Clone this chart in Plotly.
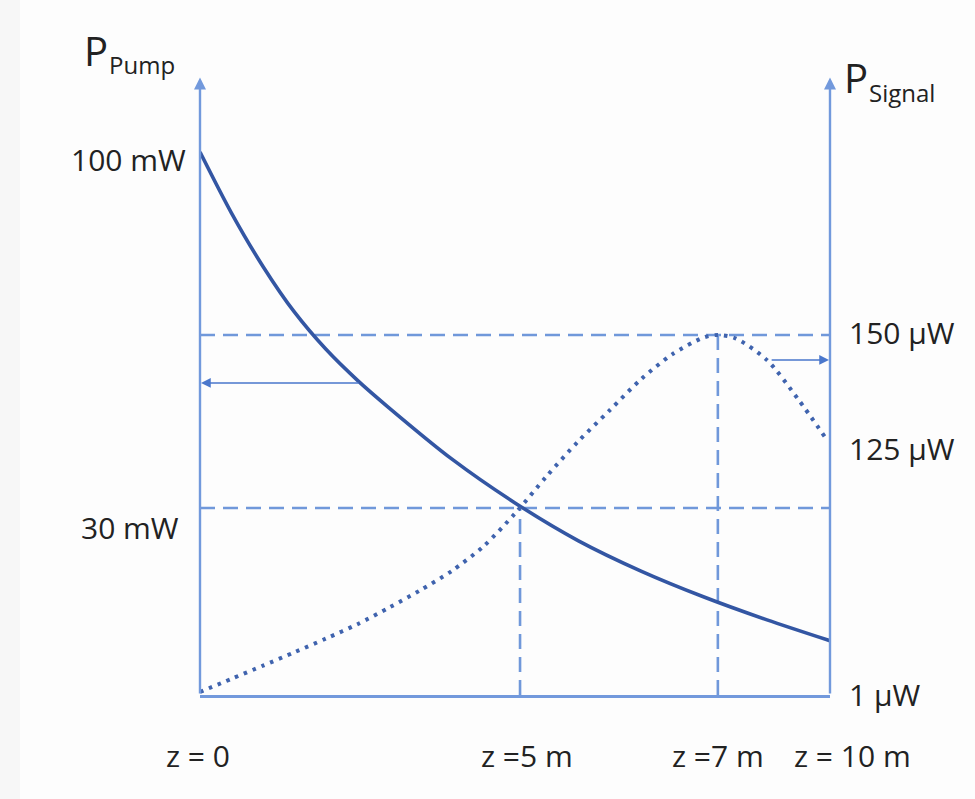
import plotly.graph_objects as go

# ---- data (axes are schematic) ----
z_pump = [0, 0.5, 1, 1.5, 2, 2.5, 3, 4, 5, 6, 7, 8, 9, 10]
p_pump_mw = [100, 88, 77.5, 68.5, 61.2, 55.1, 49.7, 39.6, 31.0, 23.6, 17.6, 12.5, 8.0, 3.9]

z_signal = [0, 0.5, 1, 1.5, 2, 2.5, 3, 3.5, 4, 4.5, 5, 5.5, 6, 6.5, 7, 7.5, 8, 8.22, 8.5, 9, 9.5, 9.92]
p_signal_level = [1, 6.5, 12, 17.6, 23.3, 29.3, 36.2, 43.5, 51.6, 61.8, 75.5, 91, 105.5, 118.5,
                  131.5, 142, 149, 150, 148.6, 139.5, 123, 107.4]

z_cross = 5.08      # pump = 30 mW meets signal curve
z_peak = 8.22       # signal maximum
pump_ref = 30       # "30 mW"
signal_peak = 150   # "150 µW"

# z labels: positions in px relative to the left end of the z axis (schematic axis)
z_tick_text = ["z = 0", "z =5 m", "z =7 m", "z = 10 m"]
z_tick_px = [-2, 327, 518, 652]

pump_tick_val = [100, 30]
pump_tick_text = ["100 mW", "30 mW"]
pump_tick_shift = [-7, -19]
pump_tick_xshift = [-12, -19]

signal_tick_val = [150, 107.4, 1]
signal_tick_text = ["150 µW", "125 µW", "1 µW"]
signal_tick_shift = [2, -11, -2]

Y1_RANGE = [-6.77, 115.14]
Y2_RANGE = [-0.25, 258.5]

AXIS_C = "#7299DC"
DASH_C = "#7098DA"
PUMP_C = "#3356A3"
SIG_C = "#3F63AE"
TXT_C = "#222222"
FONT = "Open Sans"
FS = 30

fig = go.Figure()

fig.add_trace(go.Scatter(x=z_pump, y=p_pump_mw, mode="lines", yaxis="y",
                         line=dict(color=PUMP_C, width=3.6, shape="spline", smoothing=0.8),
                         showlegend=False, hoverinfo="skip"))
fig.add_trace(go.Scatter(x=z_signal, y=p_signal_level, mode="lines", yaxis="y2",
                         line=dict(color=SIG_C, width=4, dash="3.5px,6px", shape="spline", smoothing=0.8),
                         showlegend=False, hoverinfo="skip"))

shapes = [
    # faint grey strip at the left edge
    dict(type="rect", xref="paper", yref="paper", x0=-0.33, x1=-0.2857, y0=-0.3, y1=1.2,
         fillcolor="#F7F7F7", line=dict(width=0), layer="below"),
    dict(type="line", xref="x", yref="y", x0=0, x1=10, y0=pump_ref, y1=pump_ref,
         line=dict(color=DASH_C, width=2.6, dash="15px,8px"), layer="below"),
    dict(type="line", xref="x", yref="y2", x0=0, x1=10, y0=signal_peak, y1=signal_peak,
         line=dict(color=DASH_C, width=2.6, dash="15px,8px"), layer="below"),
    dict(type="line", xref="x", yref="y", x0=z_cross, x1=z_cross, y0=Y1_RANGE[0], y1=pump_ref,
         line=dict(color=DASH_C, width=2.6, dash="15px,8px"), layer="below"),
    dict(type="line", xref="x", yref="y2", x0=z_peak, x1=z_peak, y0=Y2_RANGE[0], y1=signal_peak,
         line=dict(color=DASH_C, width=2.6, dash="15px,8px"), layer="below"),
]

ann = []
# vertical axes with arrowheads
for xv in (0, 10):
    ann.append(dict(x=xv, y=Y1_RANGE[1] - 0.5, xref="x", yref="y", ax=xv, ay=Y1_RANGE[0],
                    axref="x", ayref="y", showarrow=True, arrowhead=2, arrowsize=1.0,
                    arrowwidth=2.4, arrowcolor=AXIS_C, text="", standoff=0, startstandoff=0))
# curve-to-axis arrows
ann.append(dict(x=0, y=54.6, xref="x", yref="y", ax=2.54, ay=54.6, axref="x", ayref="y",
                showarrow=True, arrowhead=2, arrowsize=1.3, arrowwidth=1.5, arrowcolor="#4A77CC",
                text="", standoff=1))
ann.append(dict(x=10, y=139.6, xref="x", yref="y2", ax=9.05, ay=139.6, axref="x", ayref="y2",
                showarrow=True, arrowhead=2, arrowsize=1.3, arrowwidth=1.5, arrowcolor="#4A77CC",
                text="", standoff=1))

# z labels
for zpx, zt in zip(z_tick_px, z_tick_text):
    ann.append(dict(x=0, y=0, xref="paper", yref="paper", text=zt, showarrow=False,
                    xanchor="center", yanchor="middle", xshift=zpx, yshift=-60,
                    font=dict(family=FONT, size=FS, color=TXT_C)))
# pump labels
for v, t, s, xs in zip(pump_tick_val, pump_tick_text, pump_tick_shift, pump_tick_xshift):
    ann.append(dict(x=0, y=v, xref="paper", yref="y", text=t, showarrow=False,
                    xanchor="right", yanchor="middle", xshift=xs, yshift=s,
                    font=dict(family=FONT, size=FS, color=TXT_C)))
# signal labels
for v, t, s in zip(signal_tick_val, signal_tick_text, signal_tick_shift):
    ann.append(dict(x=1, y=v, xref="paper", yref="y2", text=t, showarrow=False,
                    xanchor="left", yanchor="middle", xshift=17, yshift=s,
                    font=dict(family=FONT, size=FS, color=TXT_C)))
# axis titles
ann.append(dict(x=0, y=1, xref="paper", yref="paper", text="P", showarrow=False,
                xanchor="center", yanchor="middle", xshift=-104, yshift=25,
                font=dict(family=FONT, size=40, color=TXT_C)))
ann.append(dict(x=0, y=1, xref="paper", yref="paper", text="Pump", showarrow=False,
                xanchor="left", yanchor="middle", xshift=-93, yshift=11,
                font=dict(family=FONT, size=24, color=TXT_C)))
ann.append(dict(x=1, y=1, xref="paper", yref="paper", text="P", showarrow=False,
                xanchor="center", yanchor="middle", xshift=26, yshift=-2,
                font=dict(family=FONT, size=40, color=TXT_C)))
ann.append(dict(x=1, y=1, xref="paper", yref="paper", text="Signal", showarrow=False,
                xanchor="left", yanchor="middle", xshift=37, yshift=-17,
                font=dict(family=FONT, size=24, color=TXT_C)))

fig.update_layout(
    width=975, height=799,
    margin=dict(l=200, r=145, t=75, b=104),
    paper_bgcolor="#FDFDFD", plot_bgcolor="rgba(0,0,0,0)",
    xaxis=dict(range=[0, 10], showgrid=False, zeroline=False, showticklabels=False,
               showline=True, linecolor=AXIS_C, linewidth=3, ticks=""),
    yaxis=dict(range=Y1_RANGE, visible=False, showgrid=False, zeroline=False),
    yaxis2=dict(range=Y2_RANGE, visible=False, overlaying="y", side="right",
                showgrid=False, zeroline=False),
    shapes=shapes, annotations=ann, showlegend=False,
)

fig.write_html("out.html", config={"displayModeBar": False},
               post_script="document.body.style.margin='0';document.body.style.overflow='hidden';")
